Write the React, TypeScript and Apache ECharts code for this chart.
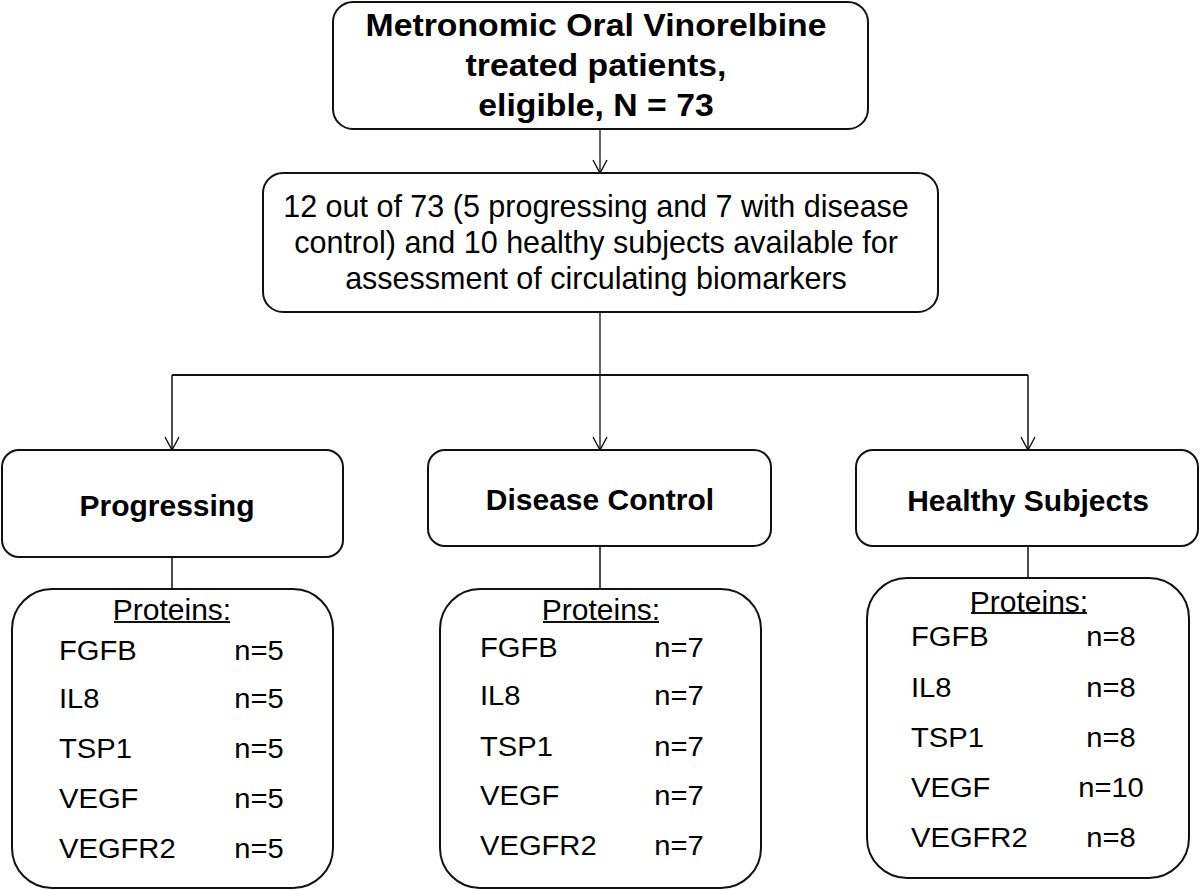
import React, { useEffect, useRef } from "react";
import * as echarts from "echarts";

// ---------- data ----------
const titleLines = ["Metronomic Oral Vinorelbine", "treated patients,", "eligible, N = 73"];
const summaryLines = [
  "12 out of 73 (5 progressing and 7 with disease",
  "control) and 10 healthy subjects available for",
  "assessment of circulating biomarkers",
];
const groups = ["Progressing", "Disease Control", "Healthy Subjects"];
const proteinsHeader = "Proteins:";
const proteins = ["FGFB", "IL8", "TSP1", "VEGF", "VEGFR2"];
const progressingN = [5, 5, 5, 5, 5];
const diseaseControlN = [7, 7, 7, 7, 7];
const healthyN = [8, 8, 8, 10, 8];
const groupCounts = [progressingN, diseaseControlN, healthyN];

// ---------- layout (positions / sizes only) ----------
const FONT = '"Liberation Sans", Arial, Helvetica, sans-serif';
const INK = "#111";

const topBox = { x: 333, y: 2, w: 535, h: 127, r: 20, cx: 596, lineYs: [25, 65, 105] };
const sumBox = { x: 263, y: 173, w: 675, h: 139, r: 20, cx: 596, lineYs: [206, 242, 278] };
const hLineY = 375;
const groupLayout = [
  {
    cx: 172, box: { x: 2, y: 450, w: 341, h: 107 }, textX: 167, textY: 505,
    pbox: { x: 12, y: 589, w: 321, h: 299 }, headY: 609, ulY: 622, headCx: 172,
    rowYs: [651, 699, 749, 799, 849], labelX: 59, valCx: 259,
  },
  {
    cx: 600, box: { x: 428, y: 450, w: 343, h: 96 }, textX: 600, textY: 499,
    pbox: { x: 440, y: 589, w: 321, h: 299 }, headY: 609, ulY: 622, headCx: 601,
    rowYs: [648, 696, 747, 796, 846], labelX: 480, valCx: 679,
  },
  {
    cx: 1028, box: { x: 856, y: 450, w: 342, h: 96 }, textX: 1028, textY: 500,
    pbox: { x: 867, y: 578, w: 322, h: 300 }, headY: 601, ulY: 613, headCx: 1029,
    rowYs: [637, 688, 738, 788, 838], labelX: 911, valCx: 1111,
  },
];

function txt(text: string, x: number, y: number, size: number, opts: any = {}) {
  return {
    type: "text",
    x,
    y,
    scaleX: opts.scaleX ?? 1,
    style: {
      text,
      fill: "#000",
      fontFamily: FONT,
      fontSize: size,
      fontWeight: opts.bold ? "bold" : "normal",
      textAlign: opts.align ?? "center",
      textVerticalAlign: "middle",
    },
  };
}
function rect(b: { x: number; y: number; w: number; h: number }, r: number) {
  return {
    type: "rect",
    shape: { x: b.x, y: b.y, width: b.w, height: b.h, r },
    style: { fill: "#fff", stroke: INK, lineWidth: 2 },
  };
}
function line(x1: number, y1: number, x2: number, y2: number, w = 1.5) {
  return { type: "line", shape: { x1, y1, x2, y2 }, style: { stroke: INK, lineWidth: w } };
}
function arrowHead(x: number, y: number) {
  return {
    type: "polyline",
    shape: { points: [[x - 7, y - 13], [x, y], [x + 7, y - 13]] },
    style: { stroke: INK, fill: "none", lineWidth: 1.4 },
  };
}

function buildElements() {
  const els: any[] = [];
  // top box
  els.push(rect({ x: topBox.x, y: topBox.y, w: topBox.w, h: topBox.h }, topBox.r));
  titleLines.forEach((t, i) => els.push(txt(t, topBox.cx, topBox.lineYs[i], 31, { bold: true, scaleX: 1.09 })));
  // arrow top -> summary
  els.push(line(600, topBox.y + topBox.h, 600, sumBox.y, 1.3));
  els.push(arrowHead(600, sumBox.y));
  // summary box
  els.push(rect({ x: sumBox.x, y: sumBox.y, w: sumBox.w, h: sumBox.h }, sumBox.r));
  summaryLines.forEach((t, i) => els.push(txt(t, sumBox.cx, sumBox.lineYs[i], 30.5)));
  // connectors
  els.push(line(600, sumBox.y + sumBox.h, 600, groupLayout[1].box.y, 1.3));
  els.push(line(groupLayout[0].cx, hLineY, groupLayout[2].cx, hLineY, 1.8));
  groupLayout.forEach((g) => {
    if (g.cx !== 600) els.push(line(g.cx, hLineY, g.cx, g.box.y, 1.5));
    els.push(arrowHead(g.cx, g.box.y));
  });
  // groups
  groups.forEach((name, gi) => {
    const g = groupLayout[gi];
    els.push(line(g.cx, g.box.y + g.box.h, g.cx, g.pbox.y, 1.5));
    els.push(rect(g.box, 17));
    els.push(txt(name, g.textX, g.textY, 30, { bold: true }));
    els.push(rect(g.pbox, 40));
    els.push(txt(proteinsHeader, g.headCx, g.headY, 30));
    els.push(line(g.headCx - 58, g.ulY, g.headCx + 58, g.ulY, 1.8));
    proteins.forEach((p, pi) => {
      els.push(txt(p, g.labelX, g.rowYs[pi], 27, { align: "left", scaleX: 1.08 }));
      els.push(txt("n=" + groupCounts[gi][pi], g.valCx, g.rowYs[pi], 27, { scaleX: 1.08 }));
    });
  });
  return els;
}

export default function App() {
  const ref = useRef<HTMLDivElement>(null);
  useEffect(() => {
    if (!ref.current) return;
    const chart = echarts.init(ref.current, null, { renderer: "svg" });
    chart.setOption({
      animation: false,
      backgroundColor: "#fff",
      graphic: { elements: buildElements() },
    });
    return () => chart.dispose();
  }, []);
  return (
    <div
      ref={ref}
      style={{ position: "fixed", left: 0, top: 0, width: 1200, height: 890, background: "#fff" }}
    />
  );
}
